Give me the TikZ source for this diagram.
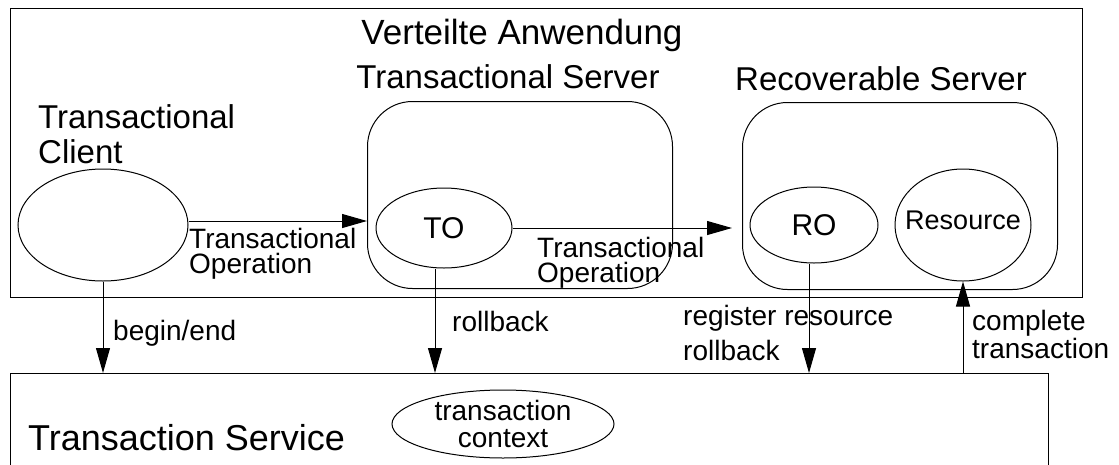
\documentclass[tikz,border=0pt]{standalone}
\usepackage{fontspec}
\setmainfont{Liberation Sans}
\usetikzlibrary{shapes.geometric,arrows.meta}
\tikzset{
  box/.style={draw, line width=1pt, inner sep=0pt, anchor=north west},
  server/.style={draw, line width=1pt, rounded corners=45pt, inner sep=0pt, anchor=north west},
  obj/.style={draw, ellipse, line width=1pt, inner sep=0pt},
  title/.style={font=\fontsize{33}{35}\selectfont, inner sep=0pt},
  lbl/.style={font=\fontsize{28}{25}\selectfont, align=left, anchor=base west, inner sep=0pt},
  arr/.style={line width=1pt, -{Triangle[length=25pt,width=14pt]}}
}
\begin{document}
\begin{tikzpicture}[x=1pt,y=-1pt]
    \clip (0,0) rectangle (1119,464);

    % boxes
    \node[box, minimum width=1072pt, minimum height=289pt] (app) at (10,8) {};
    \node[server, minimum width=305pt, minimum height=187pt] (tsrv) at (367,101) {};
    \node[server, minimum width=315pt, minimum height=187pt] (rsrv) at (742,102) {};
    \node[box, minimum width=1038pt, minimum height=140pt] (tsvc) at (10,373) {};

    % objects
    \node[obj, minimum width=170pt, minimum height=112pt] (client) at (103,225) {};
    \node[obj, minimum width=136pt, minimum height=80pt, font=\fontsize{30}{30}\selectfont] (tobj) at (444,228) {TO};
    \node[obj, minimum width=128pt, minimum height=76pt, font=\fontsize{30}{30}\selectfont] (robj) at (814,225) {RO};
    \node[obj, minimum width=136pt, minimum height=112pt] (res) at (963,225) {};
    \node[font=\fontsize{27}{27}\selectfont, inner sep=0pt] (restext) at (963,220) {Resource};
    \node[obj, minimum width=222pt, minimum height=68pt] (ctx) at (503,424) {};
    \node[font=\fontsize{28}{27}\selectfont, align=center, inner sep=0pt] (ctxtext) at (ctx) {transaction\\context};

    % titles
    \node[title, font=\fontsize{35}{35}\selectfont, anchor=base] (apptitle) at (522,44) {Verteilte Anwendung};
    \node[title, anchor=base] (tsrvtitle) at (508,88) {Transactional Server};
    \node[title, anchor=base] (rsrvtitle) at (881,90) {Recoverable Server};
    \node[title, anchor=base west, align=left] (clienttitle) at (38,163) {Transactional\\Client};
    \node[font=\fontsize{36}{36}\selectfont, anchor=base west, inner sep=0pt] (tsvctitle) at (28,450) {Transaction Service};

    % calls
    \draw[arr] ([yshift=4pt]client.east) -- ([yshift=4pt]client.east -| tsrv.west);
    \draw[arr, shorten >=10pt] (tobj.east) -- (tobj.east -| rsrv.west);
    \draw[arr] (client.south) -- (client.south |- tsvc.north);
    \draw[arr] ([xshift=-9pt]tobj.south) -- ([xshift=-9pt]tobj.south |- tsvc.north);
    \draw[arr] ([xshift=-5pt]robj.south) -- ([xshift=-5pt]robj.south |- tsvc.north);
    \draw[arr] (res.south |- tsvc.north) -- (res.south);

    \node[lbl] (op1) at (189,273) {Transactional\\Operation};
    \node[lbl] (op2) at (537,282) {Transactional\\Operation};
    \node[lbl] (beginend) at (113,340) {begin/end};
    \node[lbl] (rb) at (452,331) {rollback};
    \node[lbl, font=\fontsize{28}{35}\selectfont] (regrb) at (683,360) {register resource\\rollback};
    \node[lbl] (complete) at (972,358) {complete\\transaction};
\end{tikzpicture}
\end{document}
